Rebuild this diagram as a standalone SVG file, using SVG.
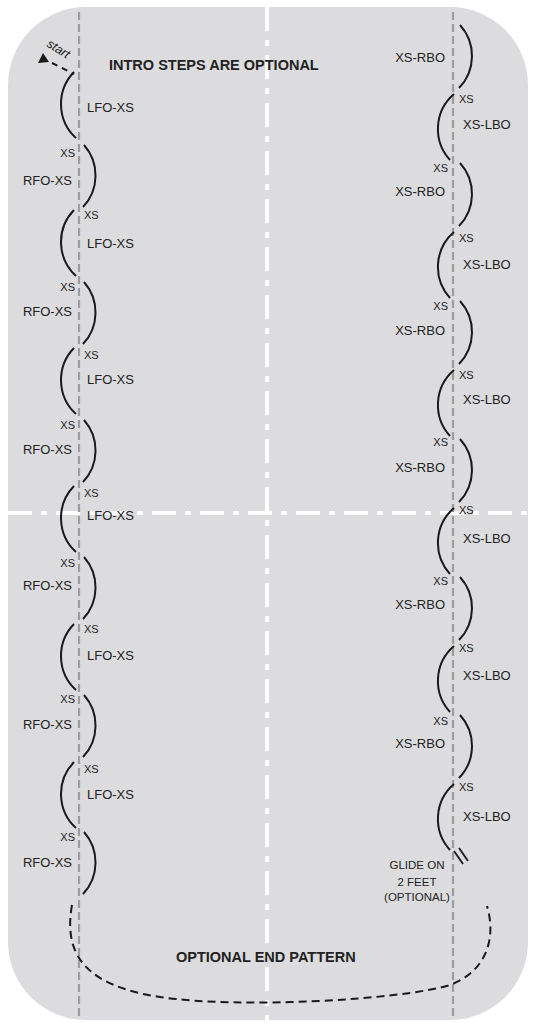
<svg xmlns="http://www.w3.org/2000/svg" width="536" height="1028" viewBox="0 0 536 1028">
<defs>
<style>
.t{font-family:"Liberation Sans",Arial,sans-serif;fill:#222;}
.lbl{font-size:13px;}
.xs{font-size:11px;}
.bold{font-size:14.5px;font-weight:bold;}
.small{font-size:11.5px;text-anchor:middle;}
.arc{fill:none;stroke:#1a1a1a;stroke-width:2;}
.gray{stroke:#9c9c9c;stroke-width:2.2;stroke-dasharray:8 4;fill:none;}
.white{stroke:#fff;stroke-width:4;stroke-dasharray:24 9 6 9;fill:none;}
.end{fill:none;stroke:#1a1a1a;stroke-width:2;stroke-dasharray:8 5;}
</style>
</defs>
<rect id="rink" x="8" y="7" width="520" height="1013" rx="78" ry="78" fill="#dcdcde"/>
<g id="reference-lines">
<line class="white" x1="267" y1="7" x2="267" y2="1020"/>
<line class="white" x1="8" y1="513" x2="528" y2="513"/>
<line class="gray" x1="79" y1="12" x2="79" y2="1020"/>
<line class="gray" x1="453" y1="12" x2="453" y2="1020"/>
</g>
<g id="start">
<polygon points="43,53 38,63 49,62" fill="#1a1a1a"/>
<path d="M52,63 L74,74" fill="none" stroke="#1a1a1a" stroke-width="2" stroke-dasharray="6 5"/>
<text class="t" x="46" y="46" font-size="12.5" font-style="italic" transform="rotate(32 46 46)">start</text>
</g>
<text id="intro" class="t bold" x="109" y="70">INTRO STEPS ARE OPTIONAL</text>
<g id="connectors">
<path class="arc" d="M74,72 A46,46 0 0 0 76,138"/>
<path class="arc" d="M74,210 A46,46 0 0 0 76,276"/>
<path class="arc" d="M74,348 A46,46 0 0 0 76,414"/>
<path class="arc" d="M74,486 A46,46 0 0 0 76,552"/>
<path class="arc" d="M74,624 A46,46 0 0 0 76,690"/>
<path class="arc" d="M74,762 A46,46 0 0 0 76,828"/>
<path class="arc" d="M84,145 A46,46 0 0 1 83,207"/>
<path class="arc" d="M84,282 A46,46 0 0 1 83,344"/>
<path class="arc" d="M84,420 A46,46 0 0 1 83,482"/>
<path class="arc" d="M84,557 A46,46 0 0 1 83,619"/>
<path class="arc" d="M84,695 A46,46 0 0 1 83,757"/>
<path class="arc" d="M84,832 A46,46 0 0 1 83,894"/>
<path class="arc" d="M460,25 A46,46 0 0 1 459,88"/>
<path class="arc" d="M460,163 A46,46 0 0 1 459,226"/>
<path class="arc" d="M460,301 A46,46 0 0 1 459,364"/>
<path class="arc" d="M460,439 A46,46 0 0 1 459,502"/>
<path class="arc" d="M460,577 A46,46 0 0 1 459,640"/>
<path class="arc" d="M460,715 A46,46 0 0 1 459,778"/>
<path class="arc" d="M454,94 A46,46 0 0 0 450,160"/>
<path class="arc" d="M454,232 A46,46 0 0 0 450,298"/>
<path class="arc" d="M454,370 A46,46 0 0 0 450,436"/>
<path class="arc" d="M454,508 A46,46 0 0 0 450,574"/>
<path class="arc" d="M454,646 A46,46 0 0 0 450,712"/>
<path class="arc" d="M454,784 A46,46 0 0 0 450,850"/>
<line x1="454" y1="851" x2="463" y2="864" stroke="#1a1a1a" stroke-width="1.8"/>
<line x1="459" y1="848" x2="468" y2="861" stroke="#1a1a1a" stroke-width="1.8"/>
<path class="end" d="M72,905 C64,950 80,985 160,997 S400,1000 450,985 C485,972 497,940 487,906"/>
</g>
<g id="left-labels" class="t">
<text class="lbl" x="87" y="112">LFO-XS</text>
<text class="lbl" x="87" y="248">LFO-XS</text>
<text class="lbl" x="87" y="384">LFO-XS</text>
<text class="lbl" x="87" y="520">LFO-XS</text>
<text class="lbl" x="87" y="660">LFO-XS</text>
<text class="lbl" x="87" y="799">LFO-XS</text>
<g text-anchor="end">
<text class="lbl" x="72" y="185">RFO-XS</text>
<text class="lbl" x="72" y="316">RFO-XS</text>
<text class="lbl" x="72" y="454">RFO-XS</text>
<text class="lbl" x="72" y="590">RFO-XS</text>
<text class="lbl" x="72" y="729">RFO-XS</text>
<text class="lbl" x="72" y="867">RFO-XS</text>
<text class="xs" x="75" y="157">XS</text>
<text class="xs" x="75" y="291">XS</text>
<text class="xs" x="75" y="429">XS</text>
<text class="xs" x="75" y="567">XS</text>
<text class="xs" x="75" y="703">XS</text>
<text class="xs" x="75" y="841">XS</text>
</g>
<text class="xs" x="84" y="219">XS</text>
<text class="xs" x="84" y="359">XS</text>
<text class="xs" x="84" y="497">XS</text>
<text class="xs" x="84" y="633">XS</text>
<text class="xs" x="84" y="773">XS</text>
</g>
<g id="right-labels" class="t">
<g text-anchor="end">
<text class="lbl" x="445" y="62">XS-RBO</text>
<text class="lbl" x="445" y="196">XS-RBO</text>
<text class="lbl" x="445" y="335">XS-RBO</text>
<text class="lbl" x="445" y="472">XS-RBO</text>
<text class="lbl" x="445" y="609">XS-RBO</text>
<text class="lbl" x="445" y="748">XS-RBO</text>
<text class="xs" x="448" y="172">XS</text>
<text class="xs" x="448" y="310">XS</text>
<text class="xs" x="448" y="446">XS</text>
<text class="xs" x="448" y="585">XS</text>
<text class="xs" x="448" y="725">XS</text>
</g>
<text class="lbl" x="463" y="129">XS-LBO</text>
<text class="lbl" x="463" y="269">XS-LBO</text>
<text class="lbl" x="463" y="404">XS-LBO</text>
<text class="lbl" x="463" y="543">XS-LBO</text>
<text class="lbl" x="463" y="680">XS-LBO</text>
<text class="lbl" x="463" y="821">XS-LBO</text>
<text class="xs" x="459" y="103">XS</text>
<text class="xs" x="459" y="242">XS</text>
<text class="xs" x="459" y="379">XS</text>
<text class="xs" x="459" y="514">XS</text>
<text class="xs" x="459" y="652">XS</text>
<text class="xs" x="459" y="791">XS</text>
</g>
<g id="glide" class="t small">
<text x="417" y="869">GLIDE ON</text>
<text x="417" y="886">2 FEET</text>
<text x="417" y="901">(OPTIONAL)</text>
</g>
<text id="end-title" class="t bold" x="176" y="962">OPTIONAL END PATTERN</text>
</svg>
